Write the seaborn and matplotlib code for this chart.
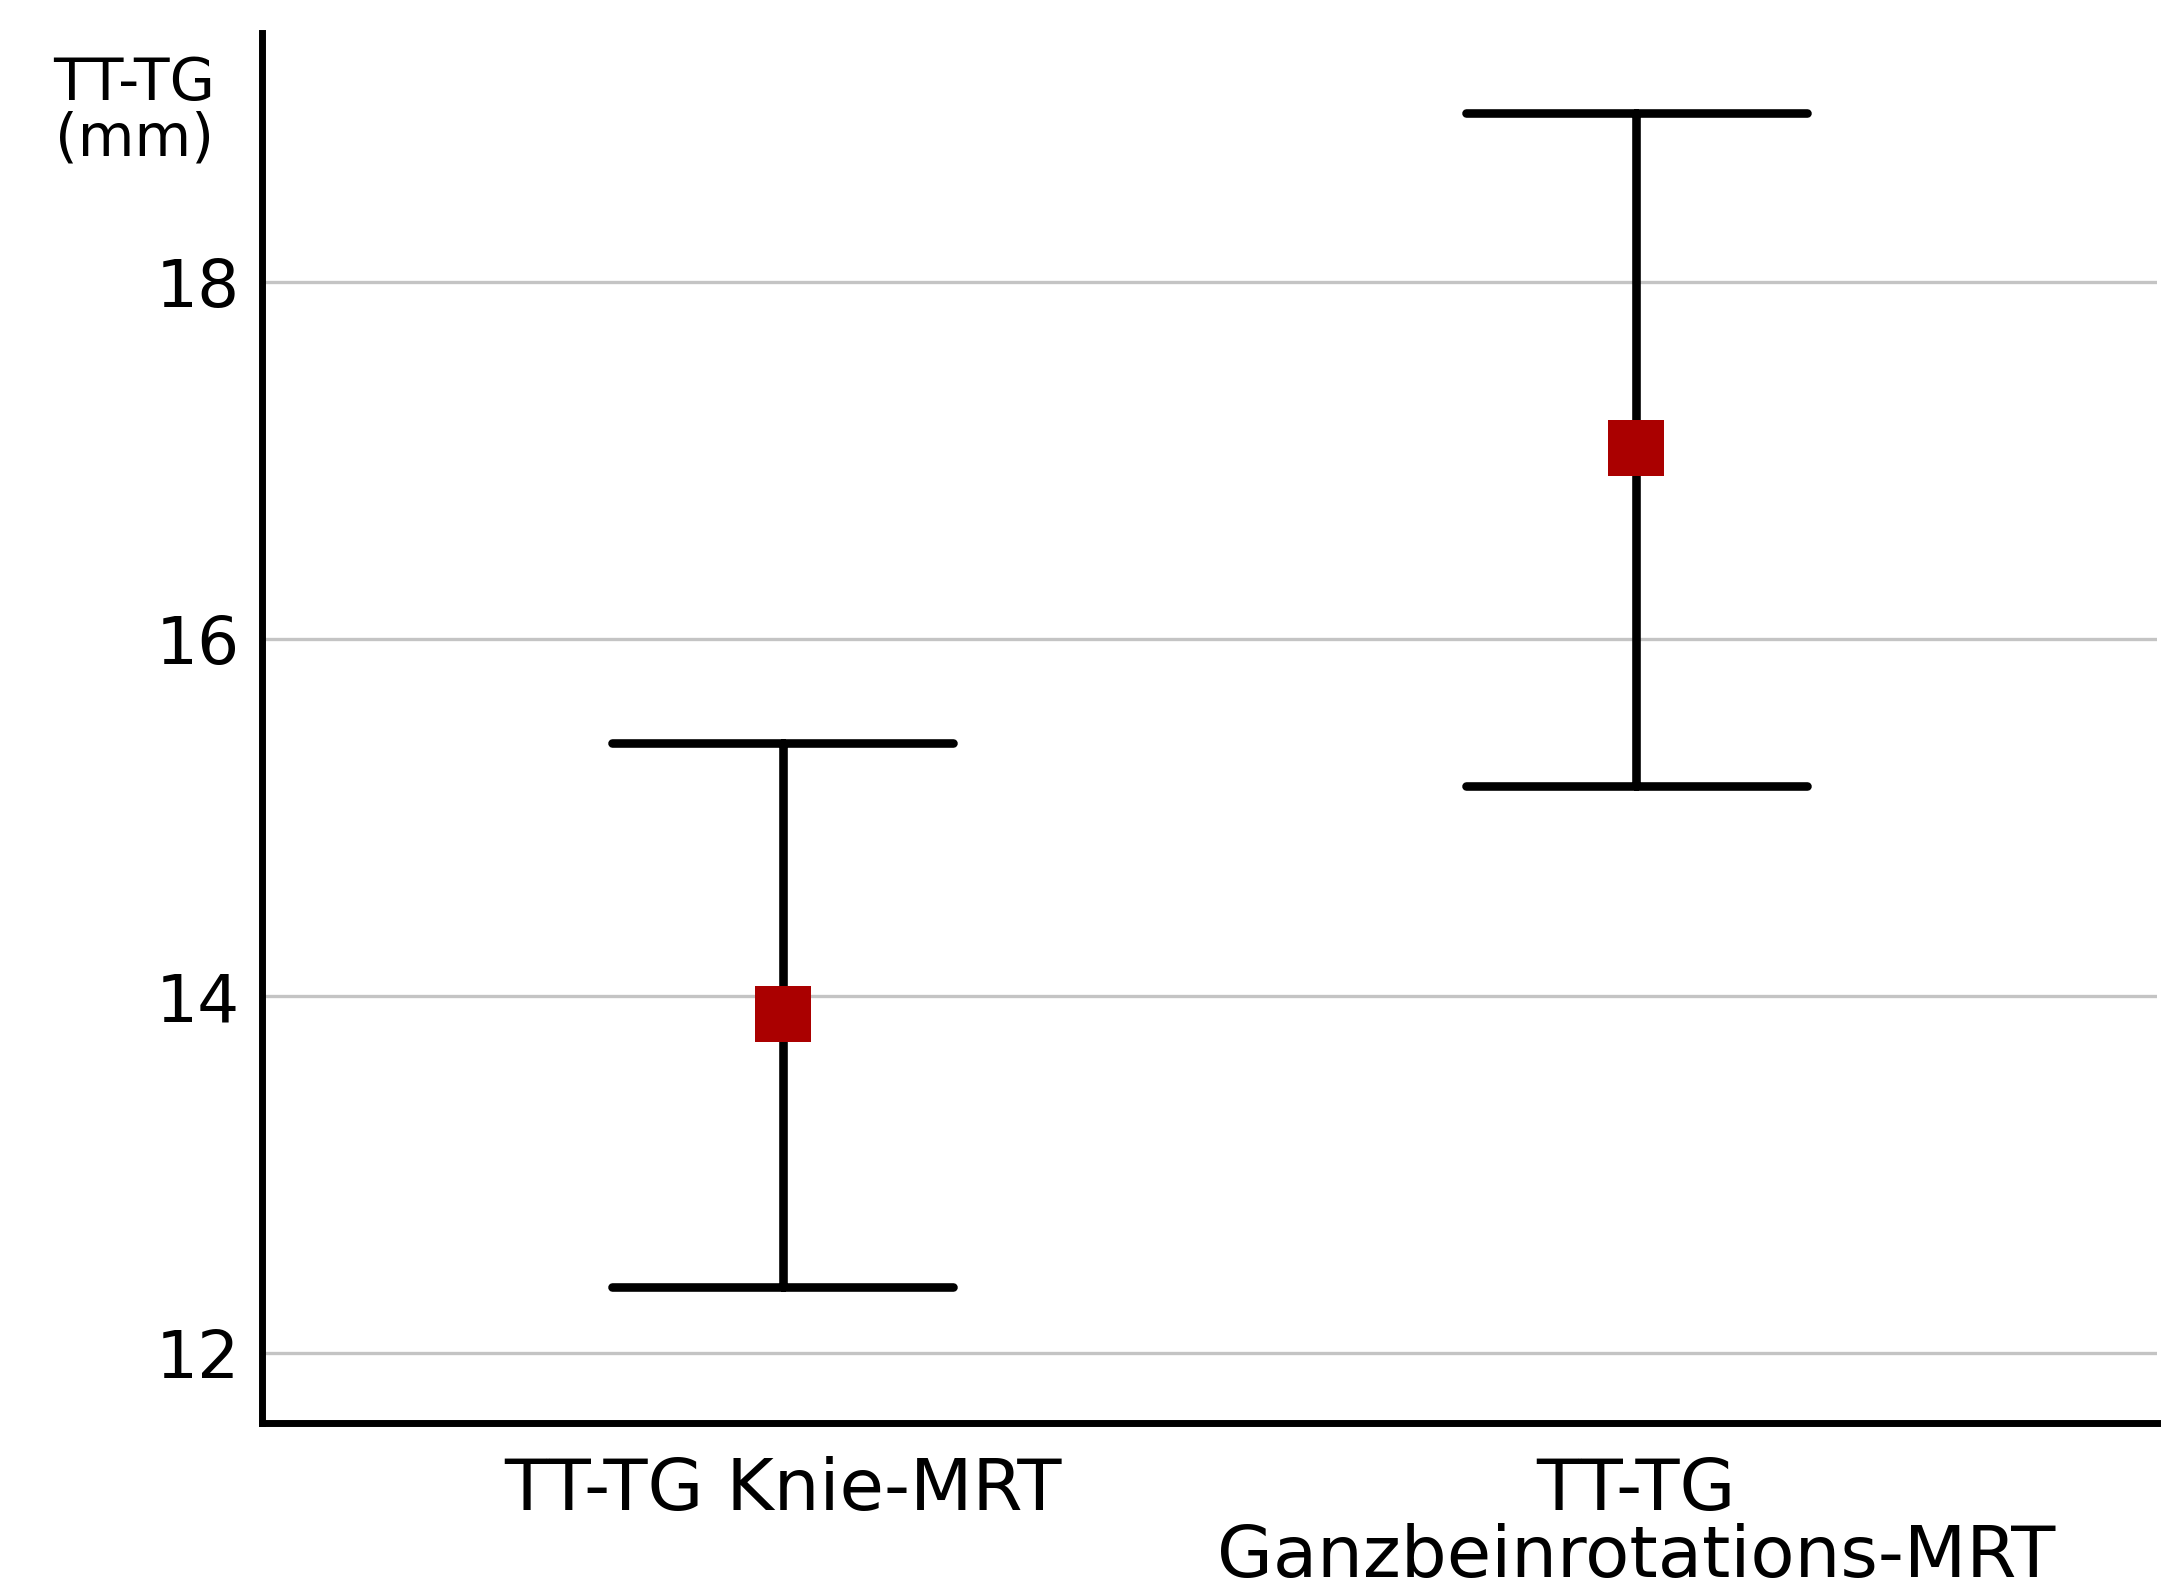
import pandas as pd
import matplotlib.pyplot as plt
import seaborn as sns

# Values (mean and lower/upper end of the error bars)
groups = ['TT-TG Knie-MRT', 'TT-TG\nGanzbeinrotations-MRT']
means = [13.90, 17.07]
lower = [12.37, 15.18]
upper = [15.42, 18.95]
y_ticks = [12, 14, 16, 18]

# Long-form table: each group holds its lower end, mean and upper end,
# so the median is the mean and min/max give the error bar
rows = []
for g, lo, m, hi in zip(groups, lower, means, upper):
    for v in (lo, m, hi):
        rows.append({'Messung': g, 'TT-TG': v})
data = pd.DataFrame(rows)

sns.set_style('white')
plt.rcParams['font.family'] = ['DejaVu Sans']
plt.rcParams['text.color'] = 'black'
plt.rcParams['axes.labelcolor'] = 'black'
plt.rcParams['xtick.color'] = 'black'
plt.rcParams['ytick.color'] = 'black'

fig = plt.figure(figsize=(10.86, 7.965), dpi=200)
ax = fig.add_axes([0.1206, 0.1067, 0.8725, 0.8723])

sns.pointplot(data=data, x='Messung', y='TT-TG', estimator='median',
              errorbar=lambda v: (v.min(), v.max()), capsize=0.4,
              color='#AA0000', marker='s', markersize=20, linestyle='none',
              markeredgewidth=0,
              err_kws={'color': 'black', 'linewidth': 3.1}, ax=ax)

# keep the red squares on top of the black error bars
for line in ax.lines:
    if line.get_marker() == 's':
        line.set_zorder(5)

ax.set_xlim(-0.61, 1.61)
ax.set_ylim(11.608, 19.395)
ax.set_yticks(y_ticks)
ax.yaxis.grid(True, color='#c4c4c4', linewidth=1.2)
ax.set_axisbelow(True)

for side in ['top', 'right']:
    ax.spines[side].set_visible(False)
for side in ['left', 'bottom']:
    ax.spines[side].set_color('black')
    ax.spines[side].set_linewidth(2.5)

ax.tick_params(axis='y', length=0, labelsize=23.8, pad=8)
ax.tick_params(axis='x', length=0, labelsize=26, pad=12)
for lab in ax.get_xticklabels():
    lab.set_linespacing(0.95)

ax.set_xlabel('')
ax.set_ylabel('TT-TG\n(mm)', rotation=0, fontsize=21, ha='center',
              va='center', linespacing=0.95)
ax.yaxis.set_label_coords(-0.0675, 0.944)

fig.savefig('out.png', dpi=200)
